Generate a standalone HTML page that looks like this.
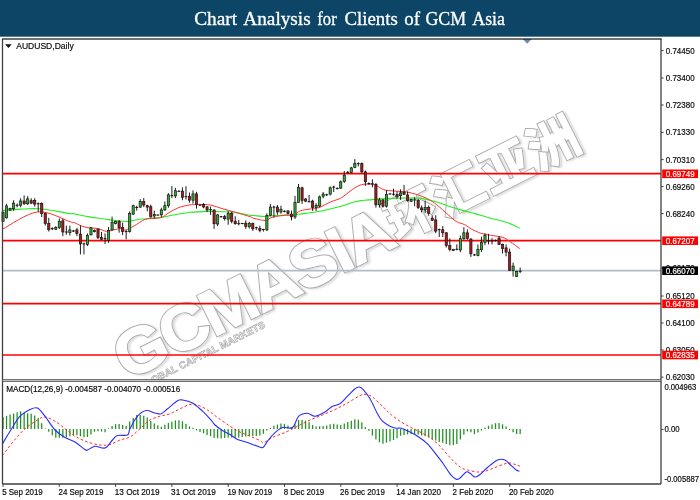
<!DOCTYPE html>
<html lang="en"><head><meta charset="utf-8"><title>Chart Analysis for Clients of GCM Asia</title>
<style>html,body{margin:0;padding:0;background:#fff;overflow:hidden}body{width:700px;height:500px;position:relative}</style></head>
<body>
<svg width="700" height="500" viewBox="0 0 700 500" style="position:absolute;left:0;top:0">
<defs><filter id="wmblur" x="-5%" y="-20%" width="110%" height="140%"><feGaussianBlur stdDeviation="1.2"/></filter><clipPath id="cpm"><rect x="2.5" y="38.9" width="658.5" height="340.8"/></clipPath></defs>
<rect x="0" y="0" width="700" height="36.7" fill="#0d4566"/>
<text y="24.8" font-family="'Liberation Serif',serif" font-size="19.5" fill="#ffffff" stroke="#ffffff" stroke-width="0.3"><tspan x="194.2" textLength="43.0" lengthAdjust="spacingAndGlyphs">Chart</tspan> <tspan x="243.3" textLength="67.4" lengthAdjust="spacingAndGlyphs">Analysis</tspan> <tspan x="317.3" textLength="19.4" lengthAdjust="spacingAndGlyphs">for</tspan> <tspan x="344.4" textLength="53.4" lengthAdjust="spacingAndGlyphs">Clients</tspan> <tspan x="404.3" textLength="15.8" lengthAdjust="spacingAndGlyphs">of</tspan> <tspan x="425.4" textLength="40.8" lengthAdjust="spacingAndGlyphs">GCM</tspan> <tspan x="472.3" textLength="32.7" lengthAdjust="spacingAndGlyphs">Asia</tspan></text>
<g clip-path="url(#cpm)"><g transform="translate(127.3,380.8) rotate(-26.6)" font-family="'Liberation Sans','Noto Sans CJK SC',sans-serif" font-weight="bold">
<text transform="translate(2,2.2) scale(1.05,1)" x="0" y="0" font-size="64" letter-spacing="-2.06" fill="none" stroke="#9a9a9a" stroke-width="2" opacity="0.5" filter="url(#wmblur)">GCMASIA</text>
<text x="305.5" y="-1.7999999999999998" font-size="50" letter-spacing="3" fill="none" stroke="#9a9a9a" stroke-width="2" opacity="0.5" filter="url(#wmblur)">环汇亚洲</text>
<text transform="translate(0,0) scale(1.05,1)" x="0" y="0" font-size="64" letter-spacing="-2.06" fill="#acacac" stroke="#acacac" stroke-width="3.1" stroke-linejoin="miter">GCMASIA</text>
<text x="303.5" y="-4" font-size="50" letter-spacing="3" fill="#acacac" stroke="#acacac" stroke-width="3.1" stroke-linejoin="miter">环汇亚洲</text>
<text transform="translate(0,0) scale(1.05,1)" x="0" y="0" font-size="64" letter-spacing="-2.06" fill="#ffffff" stroke="#ffffff" stroke-width="1.2" stroke-linejoin="miter">GCMASIA</text>
<text x="303.5" y="-4" font-size="50" letter-spacing="3" fill="#ffffff" stroke="#ffffff" stroke-width="1.2" stroke-linejoin="miter">环汇亚洲</text>
<text x="8" y="14" font-size="9.8" fill="#ffffff" stroke="#b2b2b2" stroke-width="0.75" textLength="140" lengthAdjust="spacing">GLOBAL CAPITAL MARKETS</text>
</g></g>
<line x1="2.5" x2="661.0" y1="270.6" y2="270.6" stroke="#b0bcc9" stroke-width="1.7"/>
<line x1="2.5" x2="661.0" y1="173.6" y2="173.6" stroke="#ff0000" stroke-width="1.7"/>
<line x1="2.5" x2="661.0" y1="240.7" y2="240.7" stroke="#ff0000" stroke-width="1.7"/>
<line x1="2.5" x2="661.0" y1="303.6" y2="303.6" stroke="#ff0000" stroke-width="1.7"/>
<line x1="2.5" x2="661.0" y1="355.0" y2="355.0" stroke="#ff0000" stroke-width="1.7"/>
<path d="M2.8,210.5C5.8,210.3 15.2,209.4 21.0,209.1C26.8,208.8 32.0,208.4 37.8,208.7C43.6,209.0 50.6,210.3 56.0,211.1C61.4,211.9 67.0,213.1 70.0,213.6C73.0,214.1 71.0,213.3 74.0,213.8C77.0,214.3 83.3,215.8 88.0,216.6C92.7,217.4 97.3,218.0 102.0,218.7C106.7,219.3 111.6,220.0 116.0,220.5C120.4,221.0 124.9,221.6 128.4,221.5C131.9,221.4 133.5,220.2 136.8,219.7C140.1,219.2 143.8,219.1 148.0,218.7C152.2,218.3 157.3,218.0 162.0,217.3C166.7,216.6 171.3,215.3 176.0,214.5C180.7,213.7 187.0,212.7 190.0,212.3C193.0,211.9 191.0,212.2 194.0,212.1C197.0,211.9 203.3,211.5 208.0,211.4C212.7,211.3 217.3,211.5 222.0,211.7C226.7,211.9 231.3,211.9 236.0,212.5C240.7,213.1 247.0,214.8 250.0,215.3C253.0,215.8 251.5,215.3 254.0,215.5C256.5,215.7 261.7,216.5 265.2,216.5C268.7,216.5 271.0,215.7 275.0,215.5C279.0,215.3 285.0,215.3 289.0,215.1C293.0,214.9 295.3,214.7 298.8,214.3C302.3,213.9 307.5,213.0 310.0,212.7C312.5,212.4 311.0,212.8 314.0,212.3C317.0,211.8 323.3,210.6 328.0,209.5C332.7,208.4 337.3,207.3 342.0,206.0C346.7,204.7 351.0,202.6 356.0,201.5C361.0,200.4 366.7,200.1 372.0,199.6C377.3,199.1 383.0,198.8 388.0,198.5C393.0,198.2 397.3,198.2 402.0,198.1C406.7,198.0 413.0,198.1 416.0,198.1C419.0,198.1 417.0,197.6 420.0,198.1C423.0,198.6 429.3,200.0 434.0,201.3C438.7,202.6 443.3,204.4 448.0,205.9C452.7,207.4 457.3,208.8 462.0,210.1C466.7,211.4 471.5,212.6 476.0,213.9C480.5,215.2 484.5,216.6 489.0,217.8C493.5,219.0 499.0,220.1 503.0,221.3C507.0,222.5 510.0,223.6 512.8,224.8C515.6,226.0 518.6,227.7 519.8,228.3" fill="none" stroke="#22ee22" stroke-width="1.1" stroke-linejoin="round" />
<path d="M2.8,229.0C8.6,226.2 26.6,213.1 37.8,211.9C49.0,210.7 64.0,219.9 70.0,221.7C76.0,223.5 72.2,221.8 74.0,222.5C75.8,223.2 78.7,224.8 81.0,225.7C83.3,226.6 85.2,227.3 88.0,227.8C90.8,228.3 94.8,227.9 97.8,228.5C100.8,229.1 103.6,231.1 106.2,231.3C108.8,231.5 110.6,230.4 113.2,229.9C115.8,229.4 119.5,228.6 121.6,228.6C123.7,228.6 123.5,230.4 125.6,230.0C127.7,229.6 130.7,227.8 134.0,226.0C137.3,224.2 141.7,220.6 145.2,219.3C148.7,218.0 152.2,218.6 155.0,218.3C157.8,218.0 159.7,218.2 162.0,217.3C164.3,216.4 166.2,214.3 169.0,212.7C171.8,211.1 175.3,208.8 178.8,207.5C182.3,206.2 187.5,205.4 190.0,204.9C192.5,204.4 192.6,204.8 194.0,204.7C195.4,204.6 195.4,204.3 198.2,204.4C201.0,204.5 206.8,204.4 210.8,205.1C214.8,205.8 217.8,207.4 222.0,208.6C226.2,209.8 231.3,211.2 236.0,212.5C240.7,213.8 247.0,215.7 250.0,216.7C253.0,217.7 251.5,217.7 254.0,218.3C256.5,218.9 262.2,220.6 265.2,220.4C268.2,220.2 268.7,218.2 272.2,217.3C275.7,216.4 282.7,215.4 286.2,215.1C289.7,214.8 290.9,216.2 293.2,215.5C295.5,214.8 297.4,212.0 300.2,210.9C303.0,209.8 307.7,209.3 310.0,209.0C312.3,208.7 312.2,209.2 314.0,208.8C315.8,208.4 318.2,207.9 321.0,206.7C323.8,205.5 327.5,203.2 330.8,201.8C334.1,200.4 337.6,199.9 340.6,198.3C343.6,196.7 346.4,193.9 349.0,192.0C351.6,190.1 353.9,188.3 356.0,187.1C358.1,185.9 359.5,185.1 361.6,184.6C363.7,184.1 366.1,184.0 368.4,184.1C370.7,184.2 372.8,184.3 375.4,185.2C378.0,186.1 380.5,188.7 383.8,189.7C387.1,190.7 391.3,190.7 395.0,191.1C398.7,191.5 402.7,191.4 406.2,191.9C409.7,192.4 413.7,193.7 416.0,194.3C418.3,194.9 417.9,194.9 420.0,195.7C422.1,196.5 425.6,197.7 428.4,199.2C431.2,200.7 433.5,202.2 436.8,204.8C440.1,207.4 444.7,211.8 448.0,214.6C451.3,217.4 453.6,219.9 456.4,221.6C459.2,223.3 462.2,223.4 464.8,224.7C467.4,226.0 469.5,228.0 471.8,229.3C474.1,230.6 476.9,231.7 478.8,232.5C480.7,233.3 481.0,233.4 483.4,233.9C485.8,234.4 489.9,235.1 493.2,235.7C496.5,236.3 500.2,236.4 503.0,237.4C505.8,238.4 507.2,239.7 510.0,241.6C512.8,243.5 518.2,247.4 519.8,248.6" fill="none" stroke="#ff3030" stroke-width="1.0" stroke-linejoin="round" />
<line x1="3.04" x2="3.04" y1="211.5" y2="221.7" stroke="#111" stroke-width="0.95"/>
<rect x="1.94" y="212.2" width="2.2" height="9.1" fill="#2fae2f" stroke="#151515" stroke-width="0.7"/>
<line x1="6.55" x2="6.55" y1="203.8" y2="218.5" stroke="#111" stroke-width="0.95"/>
<rect x="5.45" y="205.9" width="2.2" height="11.9" fill="#2fae2f" stroke="#151515" stroke-width="0.7"/>
<line x1="10.07" x2="10.07" y1="207.7" y2="210.5" stroke="#111" stroke-width="0.95"/>
<rect x="8.97" y="208.4" width="2.2" height="1.7" fill="#2fae2f" stroke="#151515" stroke-width="0.7"/>
<line x1="13.59" x2="13.59" y1="200.3" y2="210.8" stroke="#111" stroke-width="0.95"/>
<rect x="12.49" y="203.1" width="2.2" height="5.6" fill="#2fae2f" stroke="#151515" stroke-width="0.7"/>
<line x1="17.11" x2="17.11" y1="203.5" y2="207.3" stroke="#111" stroke-width="0.95"/>
<line x1="15.71" x2="18.51" y1="205.3" y2="205.3" stroke="#111" stroke-width="1"/>
<line x1="20.62" x2="20.62" y1="198.2" y2="207.3" stroke="#111" stroke-width="0.95"/>
<rect x="19.52" y="201.0" width="2.2" height="4.2" fill="#2fae2f" stroke="#151515" stroke-width="0.7"/>
<line x1="24.14" x2="24.14" y1="195.4" y2="204.9" stroke="#111" stroke-width="0.95"/>
<rect x="23.04" y="201.0" width="2.2" height="2.8" fill="#b01818" stroke="#151515" stroke-width="0.7"/>
<line x1="27.66" x2="27.66" y1="196.1" y2="204.9" stroke="#111" stroke-width="0.95"/>
<rect x="26.56" y="198.9" width="2.2" height="4.9" fill="#2fae2f" stroke="#151515" stroke-width="0.7"/>
<line x1="31.18" x2="31.18" y1="198.2" y2="204.1" stroke="#111" stroke-width="0.95"/>
<rect x="30.08" y="200.7" width="2.2" height="2.4" fill="#b01818" stroke="#151515" stroke-width="0.7"/>
<line x1="34.70" x2="34.70" y1="198.2" y2="206.6" stroke="#111" stroke-width="0.95"/>
<rect x="33.60" y="200.3" width="2.2" height="3.8" fill="#b01818" stroke="#151515" stroke-width="0.7"/>
<line x1="38.21" x2="38.21" y1="202.4" y2="211.9" stroke="#111" stroke-width="0.95"/>
<line x1="36.81" x2="39.61" y1="203.8" y2="203.8" stroke="#111" stroke-width="1"/>
<line x1="41.73" x2="41.73" y1="202.4" y2="217.1" stroke="#111" stroke-width="0.95"/>
<rect x="40.63" y="203.5" width="2.2" height="10.1" fill="#b01818" stroke="#151515" stroke-width="0.7"/>
<line x1="45.25" x2="45.25" y1="212.9" y2="225.5" stroke="#111" stroke-width="0.95"/>
<rect x="44.15" y="213.6" width="2.2" height="9.8" fill="#b01818" stroke="#151515" stroke-width="0.7"/>
<line x1="48.77" x2="48.77" y1="217.8" y2="231.5" stroke="#111" stroke-width="0.95"/>
<rect x="47.67" y="223.4" width="2.2" height="6.3" fill="#b01818" stroke="#151515" stroke-width="0.7"/>
<line x1="52.28" x2="52.28" y1="227.3" y2="230.1" stroke="#111" stroke-width="0.95"/>
<line x1="50.88" x2="53.68" y1="228.6" y2="228.6" stroke="#111" stroke-width="1"/>
<line x1="55.80" x2="55.80" y1="226.2" y2="229.7" stroke="#111" stroke-width="0.95"/>
<rect x="54.70" y="227.6" width="2.2" height="1.7" fill="#2fae2f" stroke="#151515" stroke-width="0.7"/>
<line x1="59.32" x2="59.32" y1="218.5" y2="229.0" stroke="#111" stroke-width="0.95"/>
<rect x="58.22" y="221.3" width="2.2" height="6.3" fill="#2fae2f" stroke="#151515" stroke-width="0.7"/>
<line x1="62.84" x2="62.84" y1="218.7" y2="236.2" stroke="#111" stroke-width="0.95"/>
<rect x="61.74" y="220.8" width="2.2" height="11.2" fill="#b01818" stroke="#151515" stroke-width="0.7"/>
<line x1="66.36" x2="66.36" y1="225.7" y2="234.8" stroke="#111" stroke-width="0.95"/>
<line x1="64.96" x2="67.76" y1="232.0" y2="232.0" stroke="#111" stroke-width="1"/>
<line x1="69.87" x2="69.87" y1="225.7" y2="235.5" stroke="#111" stroke-width="0.95"/>
<rect x="68.77" y="229.9" width="2.2" height="2.8" fill="#2fae2f" stroke="#151515" stroke-width="0.7"/>
<line x1="73.39" x2="73.39" y1="229.9" y2="232.0" stroke="#111" stroke-width="0.95"/>
<line x1="71.99" x2="74.79" y1="231.0" y2="231.0" stroke="#111" stroke-width="1"/>
<line x1="76.91" x2="76.91" y1="227.8" y2="236.2" stroke="#111" stroke-width="0.95"/>
<rect x="75.81" y="229.9" width="2.2" height="3.5" fill="#b01818" stroke="#151515" stroke-width="0.7"/>
<line x1="80.43" x2="80.43" y1="225.7" y2="254.4" stroke="#111" stroke-width="0.95"/>
<rect x="79.33" y="234.1" width="2.2" height="9.8" fill="#b01818" stroke="#151515" stroke-width="0.7"/>
<line x1="83.95" x2="83.95" y1="242.5" y2="254.4" stroke="#111" stroke-width="0.95"/>
<line x1="82.55" x2="85.35" y1="243.9" y2="243.9" stroke="#111" stroke-width="1"/>
<line x1="87.46" x2="87.46" y1="233.4" y2="246.0" stroke="#111" stroke-width="0.95"/>
<rect x="86.36" y="235.5" width="2.2" height="9.1" fill="#2fae2f" stroke="#151515" stroke-width="0.7"/>
<line x1="90.98" x2="90.98" y1="227.1" y2="235.5" stroke="#111" stroke-width="0.95"/>
<rect x="89.88" y="227.8" width="2.2" height="7.0" fill="#2fae2f" stroke="#151515" stroke-width="0.7"/>
<line x1="94.50" x2="94.50" y1="229.6" y2="232.4" stroke="#111" stroke-width="0.95"/>
<rect x="93.40" y="230.3" width="2.2" height="1.4" fill="#2fae2f" stroke="#151515" stroke-width="0.7"/>
<line x1="98.02" x2="98.02" y1="228.5" y2="239.0" stroke="#111" stroke-width="0.95"/>
<rect x="96.92" y="229.2" width="2.2" height="8.4" fill="#b01818" stroke="#151515" stroke-width="0.7"/>
<line x1="101.53" x2="101.53" y1="232.0" y2="240.4" stroke="#111" stroke-width="0.95"/>
<rect x="100.43" y="237.6" width="2.2" height="1.7" fill="#b01818" stroke="#151515" stroke-width="0.7"/>
<line x1="105.05" x2="105.05" y1="233.4" y2="243.9" stroke="#111" stroke-width="0.95"/>
<line x1="103.65" x2="106.45" y1="238.7" y2="238.7" stroke="#111" stroke-width="1"/>
<line x1="108.57" x2="108.57" y1="227.1" y2="242.9" stroke="#111" stroke-width="0.95"/>
<rect x="107.47" y="230.6" width="2.2" height="9.8" fill="#2fae2f" stroke="#151515" stroke-width="0.7"/>
<line x1="112.09" x2="112.09" y1="216.6" y2="230.6" stroke="#111" stroke-width="0.95"/>
<rect x="110.99" y="222.2" width="2.2" height="7.7" fill="#2fae2f" stroke="#151515" stroke-width="0.7"/>
<line x1="115.61" x2="115.61" y1="220.8" y2="224.3" stroke="#111" stroke-width="0.95"/>
<rect x="114.51" y="221.5" width="2.2" height="2.1" fill="#2fae2f" stroke="#151515" stroke-width="0.7"/>
<line x1="119.12" x2="119.12" y1="220.1" y2="232.7" stroke="#111" stroke-width="0.95"/>
<rect x="118.02" y="221.5" width="2.2" height="6.3" fill="#b01818" stroke="#151515" stroke-width="0.7"/>
<line x1="122.64" x2="122.64" y1="222.5" y2="235.1" stroke="#111" stroke-width="0.95"/>
<rect x="121.54" y="227.4" width="2.2" height="4.2" fill="#b01818" stroke="#151515" stroke-width="0.7"/>
<line x1="126.16" x2="126.16" y1="230.2" y2="239.3" stroke="#111" stroke-width="0.95"/>
<line x1="124.76" x2="127.56" y1="231.6" y2="231.6" stroke="#111" stroke-width="1"/>
<line x1="129.68" x2="129.68" y1="211.3" y2="232.7" stroke="#111" stroke-width="0.95"/>
<rect x="128.58" y="213.4" width="2.2" height="18.2" fill="#2fae2f" stroke="#151515" stroke-width="0.7"/>
<line x1="133.19" x2="133.19" y1="204.7" y2="214.8" stroke="#111" stroke-width="0.95"/>
<rect x="132.09" y="205.7" width="2.2" height="8.4" fill="#2fae2f" stroke="#151515" stroke-width="0.7"/>
<line x1="136.71" x2="136.71" y1="205.7" y2="210.6" stroke="#111" stroke-width="0.95"/>
<line x1="135.31" x2="138.11" y1="207.5" y2="207.5" stroke="#111" stroke-width="1"/>
<line x1="140.23" x2="140.23" y1="199.1" y2="207.8" stroke="#111" stroke-width="0.95"/>
<rect x="139.13" y="201.5" width="2.2" height="5.6" fill="#2fae2f" stroke="#151515" stroke-width="0.7"/>
<line x1="143.75" x2="143.75" y1="198.0" y2="207.1" stroke="#111" stroke-width="0.95"/>
<rect x="142.65" y="201.5" width="2.2" height="3.5" fill="#b01818" stroke="#151515" stroke-width="0.7"/>
<line x1="147.27" x2="147.27" y1="204.7" y2="211.3" stroke="#111" stroke-width="0.95"/>
<rect x="146.17" y="205.7" width="2.2" height="1.4" fill="#b01818" stroke="#151515" stroke-width="0.7"/>
<line x1="150.78" x2="150.78" y1="204.7" y2="217.6" stroke="#111" stroke-width="0.95"/>
<rect x="149.68" y="206.7" width="2.2" height="10.2" fill="#b01818" stroke="#151515" stroke-width="0.7"/>
<line x1="154.30" x2="154.30" y1="210.6" y2="218.3" stroke="#111" stroke-width="0.95"/>
<rect x="153.20" y="214.5" width="2.2" height="1.4" fill="#2fae2f" stroke="#151515" stroke-width="0.7"/>
<line x1="157.82" x2="157.82" y1="214.5" y2="215.6" stroke="#111" stroke-width="0.95"/>
<line x1="156.42" x2="159.22" y1="215.1" y2="215.1" stroke="#111" stroke-width="1"/>
<line x1="161.34" x2="161.34" y1="207.8" y2="216.9" stroke="#111" stroke-width="0.95"/>
<rect x="160.24" y="209.9" width="2.2" height="4.9" fill="#2fae2f" stroke="#151515" stroke-width="0.7"/>
<line x1="164.85" x2="164.85" y1="201.5" y2="210.9" stroke="#111" stroke-width="0.95"/>
<rect x="163.75" y="205.7" width="2.2" height="4.2" fill="#2fae2f" stroke="#151515" stroke-width="0.7"/>
<line x1="168.37" x2="168.37" y1="193.1" y2="207.8" stroke="#111" stroke-width="0.95"/>
<rect x="167.27" y="194.9" width="2.2" height="10.8" fill="#2fae2f" stroke="#151515" stroke-width="0.7"/>
<line x1="171.89" x2="171.89" y1="186.1" y2="198.0" stroke="#111" stroke-width="0.95"/>
<line x1="170.49" x2="173.29" y1="195.6" y2="195.6" stroke="#111" stroke-width="1"/>
<line x1="175.41" x2="175.41" y1="187.9" y2="198.0" stroke="#111" stroke-width="0.95"/>
<rect x="174.31" y="190.7" width="2.2" height="5.2" fill="#2fae2f" stroke="#151515" stroke-width="0.7"/>
<line x1="178.93" x2="178.93" y1="190.3" y2="192.1" stroke="#111" stroke-width="0.95"/>
<line x1="177.53" x2="180.33" y1="191.3" y2="191.3" stroke="#111" stroke-width="1"/>
<line x1="182.44" x2="182.44" y1="187.3" y2="200.2" stroke="#111" stroke-width="0.95"/>
<rect x="181.34" y="191.1" width="2.2" height="6.3" fill="#b01818" stroke="#151515" stroke-width="0.7"/>
<line x1="185.96" x2="185.96" y1="186.2" y2="199.5" stroke="#111" stroke-width="0.95"/>
<line x1="184.56" x2="187.36" y1="196.7" y2="196.7" stroke="#111" stroke-width="1"/>
<line x1="189.48" x2="189.48" y1="192.5" y2="202.7" stroke="#111" stroke-width="0.95"/>
<rect x="188.38" y="196.3" width="2.2" height="3.9" fill="#b01818" stroke="#151515" stroke-width="0.7"/>
<line x1="193.00" x2="193.00" y1="190.4" y2="203.7" stroke="#111" stroke-width="0.95"/>
<rect x="191.90" y="193.9" width="2.2" height="6.3" fill="#2fae2f" stroke="#151515" stroke-width="0.7"/>
<line x1="196.51" x2="196.51" y1="191.8" y2="208.6" stroke="#111" stroke-width="0.95"/>
<rect x="195.41" y="193.9" width="2.2" height="10.8" fill="#b01818" stroke="#151515" stroke-width="0.7"/>
<line x1="200.03" x2="200.03" y1="204.4" y2="206.1" stroke="#111" stroke-width="0.95"/>
<line x1="198.63" x2="201.43" y1="205.1" y2="205.1" stroke="#111" stroke-width="1"/>
<line x1="203.55" x2="203.55" y1="203.0" y2="208.3" stroke="#111" stroke-width="0.95"/>
<rect x="202.45" y="204.4" width="2.2" height="2.5" fill="#b01818" stroke="#151515" stroke-width="0.7"/>
<line x1="207.07" x2="207.07" y1="206.1" y2="212.1" stroke="#111" stroke-width="0.95"/>
<rect x="205.97" y="206.9" width="2.2" height="3.1" fill="#b01818" stroke="#151515" stroke-width="0.7"/>
<line x1="210.59" x2="210.59" y1="206.5" y2="214.9" stroke="#111" stroke-width="0.95"/>
<line x1="209.19" x2="211.99" y1="209.7" y2="209.7" stroke="#111" stroke-width="1"/>
<line x1="214.10" x2="214.10" y1="209.3" y2="228.9" stroke="#111" stroke-width="0.95"/>
<rect x="213.00" y="210.0" width="2.2" height="13.7" fill="#b01818" stroke="#151515" stroke-width="0.7"/>
<line x1="217.62" x2="217.62" y1="214.2" y2="226.1" stroke="#111" stroke-width="0.95"/>
<rect x="216.52" y="214.9" width="2.2" height="9.1" fill="#2fae2f" stroke="#151515" stroke-width="0.7"/>
<line x1="221.14" x2="221.14" y1="216.0" y2="217.7" stroke="#111" stroke-width="0.95"/>
<line x1="219.74" x2="222.54" y1="216.7" y2="216.7" stroke="#111" stroke-width="1"/>
<line x1="224.66" x2="224.66" y1="214.9" y2="220.5" stroke="#111" stroke-width="0.95"/>
<rect x="223.56" y="216.7" width="2.2" height="2.0" fill="#b01818" stroke="#151515" stroke-width="0.7"/>
<line x1="228.17" x2="228.17" y1="211.1" y2="224.7" stroke="#111" stroke-width="0.95"/>
<rect x="227.07" y="213.5" width="2.2" height="5.6" fill="#2fae2f" stroke="#151515" stroke-width="0.7"/>
<line x1="231.69" x2="231.69" y1="211.7" y2="223.3" stroke="#111" stroke-width="0.95"/>
<rect x="230.59" y="213.5" width="2.2" height="7.7" fill="#b01818" stroke="#151515" stroke-width="0.7"/>
<line x1="235.21" x2="235.21" y1="216.3" y2="224.7" stroke="#111" stroke-width="0.95"/>
<rect x="234.11" y="221.2" width="2.2" height="2.5" fill="#b01818" stroke="#151515" stroke-width="0.7"/>
<line x1="238.73" x2="238.73" y1="219.8" y2="225.4" stroke="#111" stroke-width="0.95"/>
<line x1="237.33" x2="240.13" y1="223.7" y2="223.7" stroke="#111" stroke-width="1"/>
<line x1="242.25" x2="242.25" y1="222.9" y2="224.3" stroke="#111" stroke-width="0.95"/>
<line x1="240.85" x2="243.65" y1="223.5" y2="223.5" stroke="#111" stroke-width="1"/>
<line x1="245.76" x2="245.76" y1="220.4" y2="228.8" stroke="#111" stroke-width="0.95"/>
<rect x="244.66" y="223.2" width="2.2" height="3.1" fill="#b01818" stroke="#151515" stroke-width="0.7"/>
<line x1="249.28" x2="249.28" y1="221.8" y2="228.5" stroke="#111" stroke-width="0.95"/>
<rect x="248.18" y="223.5" width="2.2" height="3.2" fill="#2fae2f" stroke="#151515" stroke-width="0.7"/>
<line x1="252.80" x2="252.80" y1="222.5" y2="230.9" stroke="#111" stroke-width="0.95"/>
<rect x="251.70" y="223.5" width="2.2" height="5.3" fill="#b01818" stroke="#151515" stroke-width="0.7"/>
<line x1="256.32" x2="256.32" y1="226.7" y2="229.9" stroke="#111" stroke-width="0.95"/>
<line x1="254.92" x2="257.72" y1="227.7" y2="227.7" stroke="#111" stroke-width="1"/>
<line x1="259.84" x2="259.84" y1="225.7" y2="232.3" stroke="#111" stroke-width="0.95"/>
<rect x="258.74" y="228.5" width="2.2" height="2.0" fill="#b01818" stroke="#151515" stroke-width="0.7"/>
<line x1="263.35" x2="263.35" y1="228.8" y2="231.6" stroke="#111" stroke-width="0.95"/>
<line x1="261.95" x2="264.75" y1="229.5" y2="229.5" stroke="#111" stroke-width="1"/>
<line x1="266.87" x2="266.87" y1="213.4" y2="230.9" stroke="#111" stroke-width="0.95"/>
<rect x="265.77" y="215.5" width="2.2" height="14.4" fill="#2fae2f" stroke="#151515" stroke-width="0.7"/>
<line x1="270.39" x2="270.39" y1="203.9" y2="216.2" stroke="#111" stroke-width="0.95"/>
<rect x="269.29" y="207.1" width="2.2" height="8.4" fill="#2fae2f" stroke="#151515" stroke-width="0.7"/>
<line x1="273.91" x2="273.91" y1="205.7" y2="217.6" stroke="#111" stroke-width="0.95"/>
<line x1="272.51" x2="275.31" y1="207.1" y2="207.1" stroke="#111" stroke-width="1"/>
<line x1="277.42" x2="277.42" y1="205.0" y2="214.8" stroke="#111" stroke-width="0.95"/>
<rect x="276.32" y="207.1" width="2.2" height="4.9" fill="#b01818" stroke="#151515" stroke-width="0.7"/>
<line x1="280.94" x2="280.94" y1="205.7" y2="213.7" stroke="#111" stroke-width="0.95"/>
<rect x="279.84" y="209.2" width="2.2" height="2.8" fill="#2fae2f" stroke="#151515" stroke-width="0.7"/>
<line x1="284.46" x2="284.46" y1="210.3" y2="212.3" stroke="#111" stroke-width="0.95"/>
<line x1="283.06" x2="285.86" y1="211.3" y2="211.3" stroke="#111" stroke-width="1"/>
<line x1="287.98" x2="287.98" y1="210.3" y2="214.5" stroke="#111" stroke-width="0.95"/>
<rect x="286.88" y="210.9" width="2.2" height="2.5" fill="#b01818" stroke="#151515" stroke-width="0.7"/>
<line x1="291.50" x2="291.50" y1="210.6" y2="220.4" stroke="#111" stroke-width="0.95"/>
<rect x="290.40" y="214.1" width="2.2" height="2.8" fill="#b01818" stroke="#151515" stroke-width="0.7"/>
<line x1="295.01" x2="295.01" y1="195.9" y2="219.0" stroke="#111" stroke-width="0.95"/>
<rect x="293.91" y="202.5" width="2.2" height="14.4" fill="#2fae2f" stroke="#151515" stroke-width="0.7"/>
<line x1="298.53" x2="298.53" y1="184.0" y2="202.9" stroke="#111" stroke-width="0.95"/>
<rect x="297.43" y="187.5" width="2.2" height="15.0" fill="#2fae2f" stroke="#151515" stroke-width="0.7"/>
<line x1="302.05" x2="302.05" y1="186.7" y2="203.9" stroke="#111" stroke-width="0.95"/>
<rect x="300.95" y="187.8" width="2.2" height="12.6" fill="#b01818" stroke="#151515" stroke-width="0.7"/>
<line x1="305.57" x2="305.57" y1="198.3" y2="202.1" stroke="#111" stroke-width="0.95"/>
<rect x="304.47" y="199.0" width="2.2" height="2.1" fill="#b01818" stroke="#151515" stroke-width="0.7"/>
<line x1="309.08" x2="309.08" y1="194.9" y2="202.4" stroke="#111" stroke-width="0.95"/>
<line x1="307.68" x2="310.48" y1="201.7" y2="201.7" stroke="#111" stroke-width="1"/>
<line x1="312.60" x2="312.60" y1="199.7" y2="210.9" stroke="#111" stroke-width="0.95"/>
<rect x="311.50" y="201.1" width="2.2" height="6.3" fill="#b01818" stroke="#151515" stroke-width="0.7"/>
<line x1="316.12" x2="316.12" y1="203.2" y2="210.9" stroke="#111" stroke-width="0.95"/>
<rect x="315.02" y="205.3" width="2.2" height="2.1" fill="#2fae2f" stroke="#151515" stroke-width="0.7"/>
<line x1="319.64" x2="319.64" y1="195.5" y2="207.4" stroke="#111" stroke-width="0.95"/>
<rect x="318.54" y="196.9" width="2.2" height="9.1" fill="#2fae2f" stroke="#151515" stroke-width="0.7"/>
<line x1="323.16" x2="323.16" y1="192.0" y2="198.3" stroke="#111" stroke-width="0.95"/>
<rect x="322.06" y="194.1" width="2.2" height="2.1" fill="#2fae2f" stroke="#151515" stroke-width="0.7"/>
<line x1="326.67" x2="326.67" y1="193.7" y2="195.9" stroke="#111" stroke-width="0.95"/>
<line x1="325.27" x2="328.07" y1="194.8" y2="194.8" stroke="#111" stroke-width="1"/>
<line x1="330.19" x2="330.19" y1="186.4" y2="195.5" stroke="#111" stroke-width="0.95"/>
<rect x="329.09" y="187.8" width="2.2" height="6.3" fill="#2fae2f" stroke="#151515" stroke-width="0.7"/>
<line x1="333.71" x2="333.71" y1="185.7" y2="192.0" stroke="#111" stroke-width="0.95"/>
<line x1="332.31" x2="335.11" y1="187.1" y2="187.1" stroke="#111" stroke-width="1"/>
<line x1="337.23" x2="337.23" y1="187.5" y2="189.5" stroke="#111" stroke-width="0.95"/>
<line x1="335.83" x2="338.63" y1="188.5" y2="188.5" stroke="#111" stroke-width="1"/>
<line x1="340.74" x2="340.74" y1="180.5" y2="188.9" stroke="#111" stroke-width="0.95"/>
<rect x="339.64" y="181.9" width="2.2" height="6.2" fill="#2fae2f" stroke="#151515" stroke-width="0.7"/>
<line x1="344.26" x2="344.26" y1="171.0" y2="182.9" stroke="#111" stroke-width="0.95"/>
<rect x="343.16" y="175.2" width="2.2" height="6.3" fill="#2fae2f" stroke="#151515" stroke-width="0.7"/>
<line x1="347.78" x2="347.78" y1="171.0" y2="173.5" stroke="#111" stroke-width="0.95"/>
<line x1="346.38" x2="349.18" y1="172.4" y2="172.4" stroke="#111" stroke-width="1"/>
<line x1="351.30" x2="351.30" y1="166.8" y2="173.1" stroke="#111" stroke-width="0.95"/>
<rect x="350.20" y="167.9" width="2.2" height="4.5" fill="#2fae2f" stroke="#151515" stroke-width="0.7"/>
<line x1="354.82" x2="354.82" y1="159.1" y2="168.2" stroke="#111" stroke-width="0.95"/>
<rect x="353.72" y="163.3" width="2.2" height="4.2" fill="#2fae2f" stroke="#151515" stroke-width="0.7"/>
<line x1="358.33" x2="358.33" y1="162.3" y2="166.5" stroke="#111" stroke-width="0.95"/>
<line x1="356.93" x2="359.73" y1="163.7" y2="163.7" stroke="#111" stroke-width="1"/>
<line x1="361.85" x2="361.85" y1="162.5" y2="173.3" stroke="#111" stroke-width="0.95"/>
<rect x="360.75" y="163.5" width="2.2" height="8.4" fill="#b01818" stroke="#151515" stroke-width="0.7"/>
<line x1="365.37" x2="365.37" y1="170.5" y2="185.9" stroke="#111" stroke-width="0.95"/>
<rect x="364.27" y="171.9" width="2.2" height="9.8" fill="#b01818" stroke="#151515" stroke-width="0.7"/>
<line x1="368.89" x2="368.89" y1="182.4" y2="184.9" stroke="#111" stroke-width="0.95"/>
<line x1="367.49" x2="370.29" y1="183.5" y2="183.5" stroke="#111" stroke-width="1"/>
<line x1="372.40" x2="372.40" y1="179.3" y2="187.3" stroke="#111" stroke-width="0.95"/>
<line x1="371.00" x2="373.80" y1="183.8" y2="183.8" stroke="#111" stroke-width="1"/>
<line x1="375.92" x2="375.92" y1="183.1" y2="207.6" stroke="#111" stroke-width="0.95"/>
<rect x="374.82" y="184.5" width="2.2" height="20.3" fill="#b01818" stroke="#151515" stroke-width="0.7"/>
<line x1="379.44" x2="379.44" y1="197.8" y2="207.6" stroke="#111" stroke-width="0.95"/>
<rect x="378.34" y="199.9" width="2.2" height="4.9" fill="#2fae2f" stroke="#151515" stroke-width="0.7"/>
<line x1="382.96" x2="382.96" y1="199.2" y2="207.6" stroke="#111" stroke-width="0.95"/>
<rect x="381.86" y="199.9" width="2.2" height="6.3" fill="#b01818" stroke="#151515" stroke-width="0.7"/>
<line x1="386.48" x2="386.48" y1="190.1" y2="207.6" stroke="#111" stroke-width="0.95"/>
<rect x="385.38" y="194.3" width="2.2" height="11.9" fill="#2fae2f" stroke="#151515" stroke-width="0.7"/>
<line x1="389.99" x2="389.99" y1="193.3" y2="194.7" stroke="#111" stroke-width="0.95"/>
<line x1="388.59" x2="391.39" y1="193.9" y2="193.9" stroke="#111" stroke-width="1"/>
<line x1="393.51" x2="393.51" y1="188.7" y2="195.7" stroke="#111" stroke-width="0.95"/>
<line x1="392.11" x2="394.91" y1="194.3" y2="194.3" stroke="#111" stroke-width="1"/>
<line x1="397.03" x2="397.03" y1="191.5" y2="198.5" stroke="#111" stroke-width="0.95"/>
<rect x="395.93" y="194.7" width="2.2" height="2.0" fill="#b01818" stroke="#151515" stroke-width="0.7"/>
<line x1="400.55" x2="400.55" y1="189.4" y2="199.9" stroke="#111" stroke-width="0.95"/>
<rect x="399.45" y="192.9" width="2.2" height="2.8" fill="#2fae2f" stroke="#151515" stroke-width="0.7"/>
<line x1="404.06" x2="404.06" y1="184.9" y2="195.0" stroke="#111" stroke-width="0.95"/>
<rect x="402.96" y="192.2" width="2.2" height="2.1" fill="#b01818" stroke="#151515" stroke-width="0.7"/>
<line x1="407.58" x2="407.58" y1="191.5" y2="201.7" stroke="#111" stroke-width="0.95"/>
<rect x="406.48" y="195.0" width="2.2" height="5.6" fill="#b01818" stroke="#151515" stroke-width="0.7"/>
<line x1="411.10" x2="411.10" y1="198.5" y2="202.0" stroke="#111" stroke-width="0.95"/>
<rect x="410.00" y="199.5" width="2.2" height="1.8" fill="#2fae2f" stroke="#151515" stroke-width="0.7"/>
<line x1="414.62" x2="414.62" y1="197.1" y2="206.2" stroke="#111" stroke-width="0.95"/>
<line x1="413.22" x2="416.02" y1="199.9" y2="199.9" stroke="#111" stroke-width="1"/>
<line x1="418.14" x2="418.14" y1="199.2" y2="209.0" stroke="#111" stroke-width="0.95"/>
<rect x="417.04" y="200.6" width="2.2" height="7.0" fill="#b01818" stroke="#151515" stroke-width="0.7"/>
<line x1="421.65" x2="421.65" y1="205.5" y2="212.5" stroke="#111" stroke-width="0.95"/>
<rect x="420.55" y="207.9" width="2.2" height="1.8" fill="#b01818" stroke="#151515" stroke-width="0.7"/>
<line x1="425.17" x2="425.17" y1="200.6" y2="212.9" stroke="#111" stroke-width="0.95"/>
<rect x="424.07" y="207.6" width="2.2" height="2.1" fill="#2fae2f" stroke="#151515" stroke-width="0.7"/>
<line x1="428.69" x2="428.69" y1="205.5" y2="215.7" stroke="#111" stroke-width="0.95"/>
<rect x="427.59" y="207.6" width="2.2" height="5.6" fill="#b01818" stroke="#151515" stroke-width="0.7"/>
<line x1="432.21" x2="432.21" y1="215.3" y2="220.9" stroke="#111" stroke-width="0.95"/>
<rect x="431.11" y="218.1" width="2.2" height="2.1" fill="#b01818" stroke="#151515" stroke-width="0.7"/>
<line x1="435.73" x2="435.73" y1="215.3" y2="233.1" stroke="#111" stroke-width="0.95"/>
<rect x="434.63" y="219.9" width="2.2" height="11.2" fill="#b01818" stroke="#151515" stroke-width="0.7"/>
<line x1="439.24" x2="439.24" y1="228.6" y2="237.0" stroke="#111" stroke-width="0.95"/>
<line x1="437.84" x2="440.64" y1="229.7" y2="229.7" stroke="#111" stroke-width="1"/>
<line x1="442.76" x2="442.76" y1="226.1" y2="237.0" stroke="#111" stroke-width="0.95"/>
<rect x="441.66" y="229.7" width="2.2" height="3.1" fill="#b01818" stroke="#151515" stroke-width="0.7"/>
<line x1="446.28" x2="446.28" y1="232.1" y2="247.5" stroke="#111" stroke-width="0.95"/>
<rect x="445.18" y="232.8" width="2.2" height="12.6" fill="#b01818" stroke="#151515" stroke-width="0.7"/>
<line x1="449.80" x2="449.80" y1="238.4" y2="251.3" stroke="#111" stroke-width="0.95"/>
<rect x="448.70" y="245.4" width="2.2" height="4.2" fill="#b01818" stroke="#151515" stroke-width="0.7"/>
<line x1="453.31" x2="453.31" y1="248.9" y2="251.0" stroke="#111" stroke-width="0.95"/>
<rect x="452.21" y="249.3" width="2.2" height="1.2" fill="#2fae2f" stroke="#151515" stroke-width="0.7"/>
<line x1="456.83" x2="456.83" y1="244.3" y2="250.3" stroke="#111" stroke-width="0.95"/>
<line x1="455.43" x2="458.23" y1="249.3" y2="249.3" stroke="#111" stroke-width="1"/>
<line x1="460.35" x2="460.35" y1="235.6" y2="252.1" stroke="#111" stroke-width="0.95"/>
<rect x="459.25" y="238.7" width="2.2" height="11.2" fill="#2fae2f" stroke="#151515" stroke-width="0.7"/>
<line x1="463.87" x2="463.87" y1="227.2" y2="239.8" stroke="#111" stroke-width="0.95"/>
<rect x="462.77" y="232.8" width="2.2" height="5.9" fill="#2fae2f" stroke="#151515" stroke-width="0.7"/>
<line x1="467.39" x2="467.39" y1="229.3" y2="239.8" stroke="#111" stroke-width="0.95"/>
<rect x="466.29" y="232.8" width="2.2" height="5.6" fill="#b01818" stroke="#151515" stroke-width="0.7"/>
<line x1="470.90" x2="470.90" y1="238.1" y2="256.9" stroke="#111" stroke-width="0.95"/>
<rect x="469.80" y="239.1" width="2.2" height="14.7" fill="#b01818" stroke="#151515" stroke-width="0.7"/>
<line x1="474.42" x2="474.42" y1="253.8" y2="255.9" stroke="#111" stroke-width="0.95"/>
<line x1="473.02" x2="475.82" y1="254.9" y2="254.9" stroke="#111" stroke-width="1"/>
<line x1="477.94" x2="477.94" y1="244.4" y2="256.3" stroke="#111" stroke-width="0.95"/>
<rect x="476.84" y="249.3" width="2.2" height="6.3" fill="#2fae2f" stroke="#151515" stroke-width="0.7"/>
<line x1="481.46" x2="481.46" y1="236.7" y2="252.1" stroke="#111" stroke-width="0.95"/>
<rect x="480.36" y="242.3" width="2.2" height="7.4" fill="#2fae2f" stroke="#151515" stroke-width="0.7"/>
<line x1="484.97" x2="484.97" y1="233.2" y2="245.1" stroke="#111" stroke-width="0.95"/>
<rect x="483.87" y="235.3" width="2.2" height="7.0" fill="#2fae2f" stroke="#151515" stroke-width="0.7"/>
<line x1="488.49" x2="488.49" y1="233.9" y2="244.4" stroke="#111" stroke-width="0.95"/>
<line x1="487.09" x2="489.89" y1="240.9" y2="240.9" stroke="#111" stroke-width="1"/>
<line x1="492.01" x2="492.01" y1="238.1" y2="244.4" stroke="#111" stroke-width="0.95"/>
<line x1="490.61" x2="493.41" y1="240.9" y2="240.9" stroke="#111" stroke-width="1"/>
<line x1="495.53" x2="495.53" y1="239.5" y2="241.6" stroke="#111" stroke-width="0.95"/>
<line x1="494.13" x2="496.93" y1="240.5" y2="240.5" stroke="#111" stroke-width="1"/>
<line x1="499.05" x2="499.05" y1="236.0" y2="244.7" stroke="#111" stroke-width="0.95"/>
<rect x="497.95" y="238.1" width="2.2" height="6.3" fill="#b01818" stroke="#151515" stroke-width="0.7"/>
<line x1="502.56" x2="502.56" y1="243.7" y2="253.5" stroke="#111" stroke-width="0.95"/>
<rect x="501.46" y="244.4" width="2.2" height="4.2" fill="#b01818" stroke="#151515" stroke-width="0.7"/>
<line x1="506.08" x2="506.08" y1="244.4" y2="256.3" stroke="#111" stroke-width="0.95"/>
<rect x="504.98" y="247.9" width="2.2" height="4.2" fill="#b01818" stroke="#151515" stroke-width="0.7"/>
<line x1="509.60" x2="509.60" y1="248.6" y2="270.7" stroke="#111" stroke-width="0.95"/>
<rect x="508.50" y="252.1" width="2.2" height="18.2" fill="#b01818" stroke="#151515" stroke-width="0.7"/>
<line x1="513.12" x2="513.12" y1="262.6" y2="276.6" stroke="#111" stroke-width="0.95"/>
<rect x="512.02" y="266.1" width="2.2" height="4.2" fill="#2fae2f" stroke="#151515" stroke-width="0.7"/>
<line x1="516.63" x2="516.63" y1="270.7" y2="276.9" stroke="#111" stroke-width="0.95"/>
<rect x="515.53" y="271.3" width="2.2" height="5.0" fill="#2fae2f" stroke="#151515" stroke-width="0.7"/>
<line x1="520.15" x2="520.15" y1="267.5" y2="273.1" stroke="#111" stroke-width="0.95"/>
<line x1="518.75" x2="521.55" y1="271.3" y2="271.3" stroke="#111" stroke-width="1"/>
<line x1="3.04" x2="3.04" y1="429.0" y2="417.1" stroke="#1f8f1f" stroke-width="1.25"/>
<line x1="6.55" x2="6.55" y1="429.0" y2="415.8" stroke="#1f8f1f" stroke-width="1.25"/>
<line x1="10.07" x2="10.07" y1="429.0" y2="414.5" stroke="#1f8f1f" stroke-width="1.25"/>
<line x1="13.59" x2="13.59" y1="429.0" y2="413.6" stroke="#1f8f1f" stroke-width="1.25"/>
<line x1="17.11" x2="17.11" y1="429.0" y2="412.2" stroke="#1f8f1f" stroke-width="1.25"/>
<line x1="20.62" x2="20.62" y1="429.0" y2="411.3" stroke="#1f8f1f" stroke-width="1.25"/>
<line x1="24.14" x2="24.14" y1="429.0" y2="412.8" stroke="#1f8f1f" stroke-width="1.25"/>
<line x1="27.66" x2="27.66" y1="429.0" y2="413.2" stroke="#1f8f1f" stroke-width="1.25"/>
<line x1="31.18" x2="31.18" y1="429.0" y2="413.8" stroke="#1f8f1f" stroke-width="1.25"/>
<line x1="34.70" x2="34.70" y1="429.0" y2="415.6" stroke="#1f8f1f" stroke-width="1.25"/>
<line x1="38.21" x2="38.21" y1="429.0" y2="418.1" stroke="#1f8f1f" stroke-width="1.25"/>
<line x1="41.73" x2="41.73" y1="429.0" y2="423.3" stroke="#1f8f1f" stroke-width="1.25"/>
<line x1="45.25" x2="45.25" y1="429.0" y2="428.4" stroke="#1f8f1f" stroke-width="1.25"/>
<line x1="48.77" x2="48.77" y1="429.0" y2="431.8" stroke="#1f8f1f" stroke-width="1.25"/>
<line x1="52.28" x2="52.28" y1="429.0" y2="435.2" stroke="#1f8f1f" stroke-width="1.25"/>
<line x1="55.80" x2="55.80" y1="429.0" y2="437.8" stroke="#1f8f1f" stroke-width="1.25"/>
<line x1="59.32" x2="59.32" y1="429.0" y2="437.8" stroke="#1f8f1f" stroke-width="1.25"/>
<line x1="62.84" x2="62.84" y1="429.0" y2="437.8" stroke="#1f8f1f" stroke-width="1.25"/>
<line x1="66.36" x2="66.36" y1="429.0" y2="437.3" stroke="#1f8f1f" stroke-width="1.25"/>
<line x1="69.87" x2="69.87" y1="429.0" y2="436.3" stroke="#1f8f1f" stroke-width="1.25"/>
<line x1="73.39" x2="73.39" y1="429.0" y2="435.2" stroke="#1f8f1f" stroke-width="1.25"/>
<line x1="76.91" x2="76.91" y1="429.0" y2="435.3" stroke="#1f8f1f" stroke-width="1.25"/>
<line x1="80.43" x2="80.43" y1="429.0" y2="436.3" stroke="#1f8f1f" stroke-width="1.25"/>
<line x1="83.95" x2="83.95" y1="429.0" y2="437.3" stroke="#1f8f1f" stroke-width="1.25"/>
<line x1="87.46" x2="87.46" y1="429.0" y2="437.0" stroke="#1f8f1f" stroke-width="1.25"/>
<line x1="90.98" x2="90.98" y1="429.0" y2="434.4" stroke="#1f8f1f" stroke-width="1.25"/>
<line x1="94.50" x2="94.50" y1="429.0" y2="431.8" stroke="#1f8f1f" stroke-width="1.25"/>
<line x1="98.02" x2="98.02" y1="429.0" y2="431.3" stroke="#1f8f1f" stroke-width="1.25"/>
<line x1="101.53" x2="101.53" y1="429.0" y2="431.5" stroke="#1f8f1f" stroke-width="1.25"/>
<line x1="105.05" x2="105.05" y1="429.0" y2="432.2" stroke="#1f8f1f" stroke-width="1.25"/>
<line x1="108.57" x2="108.57" y1="429.0" y2="428.4" stroke="#1f8f1f" stroke-width="1.25"/>
<line x1="112.09" x2="112.09" y1="429.0" y2="425.9" stroke="#1f8f1f" stroke-width="1.25"/>
<line x1="115.61" x2="115.61" y1="429.0" y2="424.2" stroke="#1f8f1f" stroke-width="1.25"/>
<line x1="119.12" x2="119.12" y1="429.0" y2="424.0" stroke="#1f8f1f" stroke-width="1.25"/>
<line x1="122.64" x2="122.64" y1="429.0" y2="425.0" stroke="#1f8f1f" stroke-width="1.25"/>
<line x1="126.16" x2="126.16" y1="429.0" y2="425.9" stroke="#1f8f1f" stroke-width="1.25"/>
<line x1="129.68" x2="129.68" y1="429.0" y2="421.5" stroke="#1f8f1f" stroke-width="1.25"/>
<line x1="133.19" x2="133.19" y1="429.0" y2="418.1" stroke="#1f8f1f" stroke-width="1.25"/>
<line x1="136.71" x2="136.71" y1="429.0" y2="415.1" stroke="#1f8f1f" stroke-width="1.25"/>
<line x1="140.23" x2="140.23" y1="429.0" y2="414.9" stroke="#1f8f1f" stroke-width="1.25"/>
<line x1="143.75" x2="143.75" y1="429.0" y2="415.7" stroke="#1f8f1f" stroke-width="1.25"/>
<line x1="147.27" x2="147.27" y1="429.0" y2="417.4" stroke="#1f8f1f" stroke-width="1.25"/>
<line x1="150.78" x2="150.78" y1="429.0" y2="421.1" stroke="#1f8f1f" stroke-width="1.25"/>
<line x1="154.30" x2="154.30" y1="429.0" y2="423.4" stroke="#1f8f1f" stroke-width="1.25"/>
<line x1="157.82" x2="157.82" y1="429.0" y2="425.3" stroke="#1f8f1f" stroke-width="1.25"/>
<line x1="161.34" x2="161.34" y1="429.0" y2="426.8" stroke="#1f8f1f" stroke-width="1.25"/>
<line x1="164.85" x2="164.85" y1="429.0" y2="424.8" stroke="#1f8f1f" stroke-width="1.25"/>
<line x1="168.37" x2="168.37" y1="429.0" y2="422.9" stroke="#1f8f1f" stroke-width="1.25"/>
<line x1="171.89" x2="171.89" y1="429.0" y2="421.4" stroke="#1f8f1f" stroke-width="1.25"/>
<line x1="175.41" x2="175.41" y1="429.0" y2="420.4" stroke="#1f8f1f" stroke-width="1.25"/>
<line x1="178.93" x2="178.93" y1="429.0" y2="420.2" stroke="#1f8f1f" stroke-width="1.25"/>
<line x1="182.44" x2="182.44" y1="429.0" y2="421.3" stroke="#1f8f1f" stroke-width="1.25"/>
<line x1="185.96" x2="185.96" y1="429.0" y2="423.8" stroke="#1f8f1f" stroke-width="1.25"/>
<line x1="189.48" x2="189.48" y1="429.0" y2="426.4" stroke="#1f8f1f" stroke-width="1.25"/>
<line x1="193.00" x2="193.00" y1="429.0" y2="427.7" stroke="#1f8f1f" stroke-width="1.25"/>
<line x1="196.51" x2="196.51" y1="429.0" y2="430.4" stroke="#1f8f1f" stroke-width="1.25"/>
<line x1="200.03" x2="200.03" y1="429.0" y2="431.9" stroke="#1f8f1f" stroke-width="1.25"/>
<line x1="203.55" x2="203.55" y1="429.0" y2="433.3" stroke="#1f8f1f" stroke-width="1.25"/>
<line x1="207.07" x2="207.07" y1="429.0" y2="435.0" stroke="#1f8f1f" stroke-width="1.25"/>
<line x1="210.59" x2="210.59" y1="429.0" y2="436.2" stroke="#1f8f1f" stroke-width="1.25"/>
<line x1="214.10" x2="214.10" y1="429.0" y2="437.9" stroke="#1f8f1f" stroke-width="1.25"/>
<line x1="217.62" x2="217.62" y1="429.0" y2="438.3" stroke="#1f8f1f" stroke-width="1.25"/>
<line x1="221.14" x2="221.14" y1="429.0" y2="438.5" stroke="#1f8f1f" stroke-width="1.25"/>
<line x1="224.66" x2="224.66" y1="429.0" y2="438.1" stroke="#1f8f1f" stroke-width="1.25"/>
<line x1="228.17" x2="228.17" y1="429.0" y2="437.6" stroke="#1f8f1f" stroke-width="1.25"/>
<line x1="231.69" x2="231.69" y1="429.0" y2="437.4" stroke="#1f8f1f" stroke-width="1.25"/>
<line x1="235.21" x2="235.21" y1="429.0" y2="437.7" stroke="#1f8f1f" stroke-width="1.25"/>
<line x1="238.73" x2="238.73" y1="429.0" y2="437.6" stroke="#1f8f1f" stroke-width="1.25"/>
<line x1="242.25" x2="242.25" y1="429.0" y2="437.0" stroke="#1f8f1f" stroke-width="1.25"/>
<line x1="245.76" x2="245.76" y1="429.0" y2="436.5" stroke="#1f8f1f" stroke-width="1.25"/>
<line x1="249.28" x2="249.28" y1="429.0" y2="436.2" stroke="#1f8f1f" stroke-width="1.25"/>
<line x1="252.80" x2="252.80" y1="429.0" y2="436.0" stroke="#1f8f1f" stroke-width="1.25"/>
<line x1="256.32" x2="256.32" y1="429.0" y2="435.9" stroke="#1f8f1f" stroke-width="1.25"/>
<line x1="259.84" x2="259.84" y1="429.0" y2="435.4" stroke="#1f8f1f" stroke-width="1.25"/>
<line x1="263.35" x2="263.35" y1="429.0" y2="433.7" stroke="#1f8f1f" stroke-width="1.25"/>
<line x1="266.87" x2="266.87" y1="429.0" y2="430.4" stroke="#1f8f1f" stroke-width="1.25"/>
<line x1="270.39" x2="270.39" y1="429.0" y2="428.1" stroke="#1f8f1f" stroke-width="1.25"/>
<line x1="273.91" x2="273.91" y1="429.0" y2="425.7" stroke="#1f8f1f" stroke-width="1.25"/>
<line x1="277.42" x2="277.42" y1="429.0" y2="424.6" stroke="#1f8f1f" stroke-width="1.25"/>
<line x1="280.94" x2="280.94" y1="429.0" y2="423.5" stroke="#1f8f1f" stroke-width="1.25"/>
<line x1="284.46" x2="284.46" y1="429.0" y2="423.8" stroke="#1f8f1f" stroke-width="1.25"/>
<line x1="287.98" x2="287.98" y1="429.0" y2="425.5" stroke="#1f8f1f" stroke-width="1.25"/>
<line x1="291.50" x2="291.50" y1="429.0" y2="427.2" stroke="#1f8f1f" stroke-width="1.25"/>
<line x1="295.01" x2="295.01" y1="429.0" y2="424.5" stroke="#1f8f1f" stroke-width="1.25"/>
<line x1="298.53" x2="298.53" y1="429.0" y2="419.9" stroke="#1f8f1f" stroke-width="1.25"/>
<line x1="302.05" x2="302.05" y1="429.0" y2="420.1" stroke="#1f8f1f" stroke-width="1.25"/>
<line x1="305.57" x2="305.57" y1="429.0" y2="420.6" stroke="#1f8f1f" stroke-width="1.25"/>
<line x1="309.08" x2="309.08" y1="429.0" y2="422.2" stroke="#1f8f1f" stroke-width="1.25"/>
<line x1="312.60" x2="312.60" y1="429.0" y2="425.0" stroke="#1f8f1f" stroke-width="1.25"/>
<line x1="316.12" x2="316.12" y1="429.0" y2="426.6" stroke="#1f8f1f" stroke-width="1.25"/>
<line x1="319.64" x2="319.64" y1="429.0" y2="426.3" stroke="#1f8f1f" stroke-width="1.25"/>
<line x1="323.16" x2="323.16" y1="429.0" y2="426.0" stroke="#1f8f1f" stroke-width="1.25"/>
<line x1="326.67" x2="326.67" y1="429.0" y2="425.4" stroke="#1f8f1f" stroke-width="1.25"/>
<line x1="330.19" x2="330.19" y1="429.0" y2="424.2" stroke="#1f8f1f" stroke-width="1.25"/>
<line x1="333.71" x2="333.71" y1="429.0" y2="423.8" stroke="#1f8f1f" stroke-width="1.25"/>
<line x1="337.23" x2="337.23" y1="429.0" y2="424.6" stroke="#1f8f1f" stroke-width="1.25"/>
<line x1="340.74" x2="340.74" y1="429.0" y2="425.0" stroke="#1f8f1f" stroke-width="1.25"/>
<line x1="344.26" x2="344.26" y1="429.0" y2="423.5" stroke="#1f8f1f" stroke-width="1.25"/>
<line x1="347.78" x2="347.78" y1="429.0" y2="422.0" stroke="#1f8f1f" stroke-width="1.25"/>
<line x1="351.30" x2="351.30" y1="429.0" y2="420.7" stroke="#1f8f1f" stroke-width="1.25"/>
<line x1="354.82" x2="354.82" y1="429.0" y2="419.3" stroke="#1f8f1f" stroke-width="1.25"/>
<line x1="358.33" x2="358.33" y1="429.0" y2="419.7" stroke="#1f8f1f" stroke-width="1.25"/>
<line x1="361.85" x2="361.85" y1="429.0" y2="422.2" stroke="#1f8f1f" stroke-width="1.25"/>
<line x1="365.37" x2="365.37" y1="429.0" y2="426.9" stroke="#1f8f1f" stroke-width="1.25"/>
<line x1="368.89" x2="368.89" y1="429.0" y2="430.7" stroke="#1f8f1f" stroke-width="1.25"/>
<line x1="372.40" x2="372.40" y1="429.0" y2="435.6" stroke="#1f8f1f" stroke-width="1.25"/>
<line x1="375.92" x2="375.92" y1="429.0" y2="439.4" stroke="#1f8f1f" stroke-width="1.25"/>
<line x1="379.44" x2="379.44" y1="429.0" y2="442.2" stroke="#1f8f1f" stroke-width="1.25"/>
<line x1="382.96" x2="382.96" y1="429.0" y2="443.8" stroke="#1f8f1f" stroke-width="1.25"/>
<line x1="386.48" x2="386.48" y1="429.0" y2="442.7" stroke="#1f8f1f" stroke-width="1.25"/>
<line x1="389.99" x2="389.99" y1="429.0" y2="441.5" stroke="#1f8f1f" stroke-width="1.25"/>
<line x1="393.51" x2="393.51" y1="429.0" y2="440.0" stroke="#1f8f1f" stroke-width="1.25"/>
<line x1="397.03" x2="397.03" y1="429.0" y2="438.2" stroke="#1f8f1f" stroke-width="1.25"/>
<line x1="400.55" x2="400.55" y1="429.0" y2="435.7" stroke="#1f8f1f" stroke-width="1.25"/>
<line x1="404.06" x2="404.06" y1="429.0" y2="434.9" stroke="#1f8f1f" stroke-width="1.25"/>
<line x1="407.58" x2="407.58" y1="429.0" y2="434.4" stroke="#1f8f1f" stroke-width="1.25"/>
<line x1="411.10" x2="411.10" y1="429.0" y2="434.1" stroke="#1f8f1f" stroke-width="1.25"/>
<line x1="414.62" x2="414.62" y1="429.0" y2="434.3" stroke="#1f8f1f" stroke-width="1.25"/>
<line x1="418.14" x2="418.14" y1="429.0" y2="434.7" stroke="#1f8f1f" stroke-width="1.25"/>
<line x1="421.65" x2="421.65" y1="429.0" y2="435.5" stroke="#1f8f1f" stroke-width="1.25"/>
<line x1="425.17" x2="425.17" y1="429.0" y2="436.2" stroke="#1f8f1f" stroke-width="1.25"/>
<line x1="428.69" x2="428.69" y1="429.0" y2="437.5" stroke="#1f8f1f" stroke-width="1.25"/>
<line x1="432.21" x2="432.21" y1="429.0" y2="439.2" stroke="#1f8f1f" stroke-width="1.25"/>
<line x1="435.73" x2="435.73" y1="429.0" y2="440.5" stroke="#1f8f1f" stroke-width="1.25"/>
<line x1="439.24" x2="439.24" y1="429.0" y2="442.0" stroke="#1f8f1f" stroke-width="1.25"/>
<line x1="442.76" x2="442.76" y1="429.0" y2="442.8" stroke="#1f8f1f" stroke-width="1.25"/>
<line x1="446.28" x2="446.28" y1="429.0" y2="443.9" stroke="#1f8f1f" stroke-width="1.25"/>
<line x1="449.80" x2="449.80" y1="429.0" y2="445.2" stroke="#1f8f1f" stroke-width="1.25"/>
<line x1="453.31" x2="453.31" y1="429.0" y2="445.0" stroke="#1f8f1f" stroke-width="1.25"/>
<line x1="456.83" x2="456.83" y1="429.0" y2="444.1" stroke="#1f8f1f" stroke-width="1.25"/>
<line x1="460.35" x2="460.35" y1="429.0" y2="439.5" stroke="#1f8f1f" stroke-width="1.25"/>
<line x1="463.87" x2="463.87" y1="429.0" y2="434.7" stroke="#1f8f1f" stroke-width="1.25"/>
<line x1="467.39" x2="467.39" y1="429.0" y2="431.4" stroke="#1f8f1f" stroke-width="1.25"/>
<line x1="470.90" x2="470.90" y1="429.0" y2="432.2" stroke="#1f8f1f" stroke-width="1.25"/>
<line x1="474.42" x2="474.42" y1="429.0" y2="434.2" stroke="#1f8f1f" stroke-width="1.25"/>
<line x1="477.94" x2="477.94" y1="429.0" y2="432.6" stroke="#1f8f1f" stroke-width="1.25"/>
<line x1="481.46" x2="481.46" y1="429.0" y2="430.5" stroke="#1f8f1f" stroke-width="1.25"/>
<line x1="484.97" x2="484.97" y1="429.0" y2="427.6" stroke="#1f8f1f" stroke-width="1.25"/>
<line x1="488.49" x2="488.49" y1="429.0" y2="425.8" stroke="#1f8f1f" stroke-width="1.25"/>
<line x1="492.01" x2="492.01" y1="429.0" y2="424.5" stroke="#1f8f1f" stroke-width="1.25"/>
<line x1="495.53" x2="495.53" y1="429.0" y2="423.2" stroke="#1f8f1f" stroke-width="1.25"/>
<line x1="499.05" x2="499.05" y1="429.0" y2="423.0" stroke="#1f8f1f" stroke-width="1.25"/>
<line x1="502.56" x2="502.56" y1="429.0" y2="424.3" stroke="#1f8f1f" stroke-width="1.25"/>
<line x1="506.08" x2="506.08" y1="429.0" y2="426.4" stroke="#1f8f1f" stroke-width="1.25"/>
<line x1="509.60" x2="509.60" y1="429.0" y2="430.1" stroke="#1f8f1f" stroke-width="1.25"/>
<line x1="513.12" x2="513.12" y1="429.0" y2="432.3" stroke="#1f8f1f" stroke-width="1.25"/>
<line x1="516.63" x2="516.63" y1="429.0" y2="434.1" stroke="#1f8f1f" stroke-width="1.25"/>
<line x1="520.15" x2="520.15" y1="429.0" y2="434.0" stroke="#1f8f1f" stroke-width="1.25"/>
<path d="M2.5,455.5C4.2,453.3 8.8,447.0 12.5,442.5C16.2,438.0 20.8,432.5 25.0,428.8C29.2,425.0 34.2,422.0 37.5,420.0C40.8,418.0 42.1,416.8 45.0,417.0C47.9,417.2 51.7,419.3 55.0,421.2C58.3,423.2 61.7,426.2 65.0,428.8C68.3,431.2 71.2,434.0 75.0,436.2C78.8,438.5 83.3,440.5 87.5,442.0C91.7,443.5 96.2,444.6 100.0,445.0C103.8,445.4 106.7,445.3 110.0,444.5C113.3,443.7 116.7,441.2 120.0,440.0C123.3,438.8 126.7,438.9 130.0,437.0C133.3,435.1 136.7,431.6 140.0,428.8C143.3,425.9 146.7,422.1 150.0,420.0C153.3,417.9 156.7,417.3 160.0,416.2C163.3,415.2 166.7,415.0 170.0,413.8C173.3,412.5 176.7,410.3 180.0,408.8C183.3,407.2 187.1,405.1 190.0,404.5C192.9,403.9 194.6,404.1 197.5,405.0C200.4,405.9 204.2,407.9 207.5,410.0C210.8,412.1 213.8,414.8 217.5,417.5C221.2,420.2 226.2,423.8 230.0,426.2C233.8,428.7 236.7,430.3 240.0,432.0C243.3,433.7 246.7,434.8 250.0,436.2C253.3,437.7 257.7,439.5 260.0,440.5C262.3,441.5 261.7,443.0 263.8,442.5C265.8,442.0 269.0,439.2 272.5,437.5C276.0,435.8 280.8,434.4 285.0,432.5C289.2,430.6 293.3,428.3 297.5,426.2C301.7,424.2 305.8,421.9 310.0,420.0C314.2,418.1 318.3,416.8 322.5,415.0C326.7,413.2 330.8,411.5 335.0,409.5C339.2,407.5 343.3,405.3 347.5,403.0C351.7,400.7 356.9,396.9 360.0,395.5C363.1,394.1 364.2,394.2 366.2,394.5C368.3,394.8 369.8,395.0 372.5,397.0C375.2,399.0 379.6,403.5 382.5,406.2C385.4,409.0 387.1,411.2 390.0,413.8C392.9,416.2 396.7,419.0 400.0,421.2C403.3,423.5 406.7,425.2 410.0,427.0C413.3,428.8 416.7,430.2 420.0,432.0C423.3,433.8 426.7,435.1 430.0,437.5C433.3,439.9 436.7,442.9 440.0,446.2C443.3,449.6 446.7,454.0 450.0,457.5C453.3,461.0 457.1,464.9 460.0,467.0C462.9,469.1 464.6,469.2 467.5,470.0C470.4,470.8 474.6,471.8 477.5,472.0C480.4,472.2 482.1,472.0 485.0,471.2C487.9,470.5 491.7,468.8 495.0,467.5C498.3,466.2 502.5,464.5 505.0,463.8C507.5,463.0 508.3,462.9 510.0,463.0C511.7,463.1 513.3,464.0 515.0,464.5C516.7,465.0 519.2,466.0 520.0,466.2" fill="none" stroke="#ff2a2a" stroke-width="1.0" stroke-linejoin="round" stroke-dasharray="2.6 2.2"/>
<path d="M2.5,443.8C3.8,441.7 7.1,435.8 10.0,431.2C12.9,426.7 16.7,419.9 20.0,416.2C23.3,412.6 27.1,410.9 30.0,409.5C32.9,408.1 35.0,406.9 37.5,408.0C40.0,409.1 42.1,412.6 45.0,416.2C47.9,419.9 51.7,426.5 55.0,430.0C58.3,433.5 61.7,435.5 65.0,437.5C68.3,439.5 71.7,440.0 75.0,442.0C78.3,444.0 82.9,448.2 85.0,449.5C87.1,450.8 85.8,450.5 87.5,450.0C89.2,449.5 92.1,446.6 95.0,446.2C97.9,445.9 102.1,449.0 105.0,448.0C107.9,447.0 110.4,442.1 112.5,440.0C114.6,437.9 115.0,436.3 117.5,435.5C120.0,434.7 125.4,436.1 127.5,435.0C129.6,433.9 128.3,431.9 130.0,428.8C131.7,425.6 134.8,419.3 137.5,416.2C140.2,413.2 143.3,411.0 146.2,410.5C149.2,410.0 152.5,412.5 155.0,413.0C157.5,413.5 159.2,414.5 161.2,413.8C163.3,413.0 164.8,410.9 167.5,408.8C170.2,406.6 175.0,402.2 177.5,400.8C180.0,399.3 180.0,399.6 182.5,400.0C185.0,400.4 189.2,401.1 192.5,403.0C195.8,404.9 199.6,408.6 202.5,411.2C205.4,413.9 207.9,416.5 210.0,418.8C212.1,421.0 212.9,423.0 215.0,425.0C217.1,427.0 220.0,428.9 222.5,430.5C225.0,432.1 227.5,433.0 230.0,434.5C232.5,436.0 234.6,438.2 237.5,439.5C240.4,440.8 244.2,441.4 247.5,442.5C250.8,443.6 254.9,445.4 257.5,446.2C260.1,447.1 261.3,448.3 263.0,447.5C264.7,446.7 265.7,443.5 267.5,441.2C269.3,439.0 271.2,436.0 273.8,433.8C276.2,431.5 279.4,428.5 282.5,427.5C285.6,426.5 289.8,429.4 292.5,427.5C295.2,425.6 296.2,418.6 298.8,416.2C301.2,413.9 304.8,413.2 307.5,413.2C310.2,413.2 312.1,416.5 315.0,416.2C317.9,416.0 322.1,413.7 325.0,412.0C327.9,410.3 330.0,407.6 332.5,406.2C335.0,404.9 337.5,405.4 340.0,403.8C342.5,402.1 345.0,398.8 347.5,396.2C350.0,393.8 353.1,390.3 355.0,388.8C356.9,387.2 357.5,387.0 358.8,387.0C360.0,387.0 360.6,386.8 362.5,388.8C364.4,390.7 367.5,394.6 370.0,398.8C372.5,402.9 375.4,410.0 377.5,413.8C379.6,417.5 380.4,419.2 382.5,421.2C384.6,423.3 387.7,425.1 390.0,426.2C392.3,427.4 394.4,427.9 396.2,428.2C398.1,428.6 399.0,427.6 401.2,428.2C403.5,428.9 407.3,430.7 410.0,432.0C412.7,433.3 414.6,434.3 417.5,436.2C420.4,438.2 424.2,440.4 427.5,443.8C430.8,447.1 434.8,452.8 437.5,456.2C440.2,459.7 441.7,461.6 443.8,464.5C445.8,467.4 447.9,471.3 450.0,473.8C452.1,476.2 454.6,478.5 456.2,479.2C457.9,480.0 458.3,479.2 460.0,478.0C461.7,476.8 464.6,472.8 466.2,472.0C467.9,471.2 468.5,472.4 470.0,473.2C471.5,474.1 473.3,476.8 475.0,477.0C476.7,477.2 477.9,476.1 480.0,474.5C482.1,472.9 484.6,469.9 487.5,467.5C490.4,465.1 494.6,461.2 497.5,460.0C500.4,458.8 502.9,459.2 505.0,460.0C507.1,460.8 508.1,462.8 510.0,464.5C511.9,466.2 514.7,468.9 516.2,470.0C517.8,471.1 519.0,471.0 519.5,471.2" fill="none" stroke="#2a2aff" stroke-width="1.1" stroke-linejoin="round" />
<g stroke="#404040" stroke-width="1.3" fill="none">
<line x1="2.5" x2="2.5" y1="38.9" y2="484.0"/>
<line x1="661.0" x2="661.0" y1="38.9" y2="484.0"/>
<line x1="1.9" x2="661.6" y1="38.9" y2="38.9" stroke-width="1.5"/>
<line x1="2.5" x2="661.0" y1="484.0" y2="484.0"/>
</g>
<line x1="2.5" x2="661.0" y1="379.7" y2="379.7" stroke="#404040" stroke-width="1.1"/>
<line x1="2.5" x2="661.0" y1="381.2" y2="381.2" stroke="#404040" stroke-width="1.1"/>
<line x1="2.5" x2="661.0" y1="380.45" y2="380.45" stroke="#d8d8d8" stroke-width="0.5"/>
<polygon points="523,39.3 531.4,39.3 527.2,43.8" fill="#7288a4"/>
<line x1="523" x2="531.4" y1="39.4" y2="39.4" stroke="#2a3646" stroke-width="0.9"/>
<polygon points="5.2,44.2 11.7,44.2 8.45,47.9" fill="#111"/>
<text x="16.2" y="49.2" font-family="'Liberation Sans',sans-serif" font-size="8.4" fill="#0a0a0a" stroke="#0a0a0a" stroke-width="0.18" textLength="57.5" lengthAdjust="spacingAndGlyphs">AUDUSD,Daily</text>
<text x="6.2" y="391.6" font-family="'Liberation Sans',sans-serif" font-size="8.6" fill="#0a0a0a" stroke="#0a0a0a" stroke-width="0.18" textLength="174" lengthAdjust="spacingAndGlyphs">MACD(12,26,9) -0.004587 -0.004070 -0.000516</text>
<line x1="661.0" x2="663.6" y1="50.6" y2="50.6" stroke="#404040" stroke-width="1"/>
<text x="665.8" y="53.6" font-family="'Liberation Sans',sans-serif" font-size="8.6" fill="#0a0a0a" stroke="#0a0a0a" stroke-width="0.18" textLength="28.8" lengthAdjust="spacingAndGlyphs">0.74450</text>
<line x1="661.0" x2="663.6" y1="78" y2="78" stroke="#404040" stroke-width="1"/>
<text x="665.8" y="81.0" font-family="'Liberation Sans',sans-serif" font-size="8.6" fill="#0a0a0a" stroke="#0a0a0a" stroke-width="0.18" textLength="28.8" lengthAdjust="spacingAndGlyphs">0.73400</text>
<line x1="661.0" x2="663.6" y1="105" y2="105" stroke="#404040" stroke-width="1"/>
<text x="665.8" y="108.0" font-family="'Liberation Sans',sans-serif" font-size="8.6" fill="#0a0a0a" stroke="#0a0a0a" stroke-width="0.18" textLength="28.8" lengthAdjust="spacingAndGlyphs">0.72380</text>
<line x1="661.0" x2="663.6" y1="132.4" y2="132.4" stroke="#404040" stroke-width="1"/>
<text x="665.8" y="135.4" font-family="'Liberation Sans',sans-serif" font-size="8.6" fill="#0a0a0a" stroke="#0a0a0a" stroke-width="0.18" textLength="28.8" lengthAdjust="spacingAndGlyphs">0.71330</text>
<line x1="661.0" x2="663.6" y1="159.6" y2="159.6" stroke="#404040" stroke-width="1"/>
<text x="665.8" y="162.6" font-family="'Liberation Sans',sans-serif" font-size="8.6" fill="#0a0a0a" stroke="#0a0a0a" stroke-width="0.18" textLength="28.8" lengthAdjust="spacingAndGlyphs">0.70310</text>
<line x1="661.0" x2="663.6" y1="186.6" y2="186.6" stroke="#404040" stroke-width="1"/>
<text x="665.8" y="189.6" font-family="'Liberation Sans',sans-serif" font-size="8.6" fill="#0a0a0a" stroke="#0a0a0a" stroke-width="0.18" textLength="28.8" lengthAdjust="spacingAndGlyphs">0.69260</text>
<line x1="661.0" x2="663.6" y1="213.6" y2="213.6" stroke="#404040" stroke-width="1"/>
<text x="665.8" y="216.6" font-family="'Liberation Sans',sans-serif" font-size="8.6" fill="#0a0a0a" stroke="#0a0a0a" stroke-width="0.18" textLength="28.8" lengthAdjust="spacingAndGlyphs">0.68240</text>
<line x1="661.0" x2="663.6" y1="268" y2="268" stroke="#404040" stroke-width="1"/>
<text x="665.8" y="271.0" font-family="'Liberation Sans',sans-serif" font-size="8.6" fill="#0a0a0a" stroke="#0a0a0a" stroke-width="0.18" textLength="28.8" lengthAdjust="spacingAndGlyphs">0.66170</text>
<line x1="661.0" x2="663.6" y1="296" y2="296" stroke="#404040" stroke-width="1"/>
<text x="665.8" y="299.0" font-family="'Liberation Sans',sans-serif" font-size="8.6" fill="#0a0a0a" stroke="#0a0a0a" stroke-width="0.18" textLength="28.8" lengthAdjust="spacingAndGlyphs">0.65120</text>
<line x1="661.0" x2="663.6" y1="323" y2="323" stroke="#404040" stroke-width="1"/>
<text x="665.8" y="326.0" font-family="'Liberation Sans',sans-serif" font-size="8.6" fill="#0a0a0a" stroke="#0a0a0a" stroke-width="0.18" textLength="28.8" lengthAdjust="spacingAndGlyphs">0.64100</text>
<line x1="661.0" x2="663.6" y1="350" y2="350" stroke="#404040" stroke-width="1"/>
<text x="665.8" y="353.0" font-family="'Liberation Sans',sans-serif" font-size="8.6" fill="#0a0a0a" stroke="#0a0a0a" stroke-width="0.18" textLength="28.8" lengthAdjust="spacingAndGlyphs">0.63050</text>
<line x1="661.0" x2="663.6" y1="377.2" y2="377.2" stroke="#404040" stroke-width="1"/>
<text x="665.8" y="380.2" font-family="'Liberation Sans',sans-serif" font-size="8.6" fill="#0a0a0a" stroke="#0a0a0a" stroke-width="0.18" textLength="28.8" lengthAdjust="spacingAndGlyphs">0.62030</text>
<rect x="662.2" y="169.5" width="35.8" height="8.6" fill="#ff0000"/>
<text x="665.8" y="176.8" font-family="'Liberation Sans',sans-serif" font-size="8.6" fill="#ffffff" stroke="#ffffff" stroke-width="0.18" textLength="28.8" lengthAdjust="spacingAndGlyphs">0.69749</text>
<rect x="662.2" y="236.4" width="35.8" height="8.6" fill="#ff0000"/>
<text x="665.8" y="243.7" font-family="'Liberation Sans',sans-serif" font-size="8.6" fill="#ffffff" stroke="#ffffff" stroke-width="0.18" textLength="28.8" lengthAdjust="spacingAndGlyphs">0.67207</text>
<rect x="662.2" y="266.4" width="35.8" height="8.6" fill="#000000"/>
<text x="665.8" y="273.7" font-family="'Liberation Sans',sans-serif" font-size="8.6" fill="#ffffff" stroke="#ffffff" stroke-width="0.18" textLength="28.8" lengthAdjust="spacingAndGlyphs">0.66070</text>
<rect x="662.2" y="299.5" width="35.8" height="8.6" fill="#ff0000"/>
<text x="665.8" y="306.8" font-family="'Liberation Sans',sans-serif" font-size="8.6" fill="#ffffff" stroke="#ffffff" stroke-width="0.18" textLength="28.8" lengthAdjust="spacingAndGlyphs">0.64789</text>
<rect x="662.2" y="350.7" width="35.8" height="8.6" fill="#ff0000"/>
<text x="665.8" y="358.0" font-family="'Liberation Sans',sans-serif" font-size="8.6" fill="#ffffff" stroke="#ffffff" stroke-width="0.18" textLength="28.8" lengthAdjust="spacingAndGlyphs">0.62835</text>
<text x="664.4" y="390.0" font-family="'Liberation Sans',sans-serif" font-size="8.6" fill="#0a0a0a" stroke="#0a0a0a" stroke-width="0.18" textLength="32" lengthAdjust="spacingAndGlyphs">0.004963</text>
<line x1="661.0" x2="663.6" y1="429.4" y2="429.4" stroke="#404040" stroke-width="1"/>
<text x="664.4" y="432.4" font-family="'Liberation Sans',sans-serif" font-size="8.6" fill="#0a0a0a" stroke="#0a0a0a" stroke-width="0.18" textLength="15.2" lengthAdjust="spacingAndGlyphs">0.00</text>
<text x="664.4" y="482.0" font-family="'Liberation Sans',sans-serif" font-size="8.6" fill="#0a0a0a" stroke="#0a0a0a" stroke-width="0.18" textLength="34.6" lengthAdjust="spacingAndGlyphs">-0.005887</text>
<line x1="3.0" x2="3.0" y1="484.0" y2="486.8" stroke="#404040" stroke-width="1"/>
<text x="2.2" y="494.8" font-family="'Liberation Sans',sans-serif" font-size="8.6" fill="#0a0a0a" stroke="#0a0a0a" stroke-width="0.18" textLength="40.6" lengthAdjust="spacingAndGlyphs">5 Sep 2019</text>
<line x1="59.3" x2="59.3" y1="484.0" y2="486.8" stroke="#404040" stroke-width="1"/>
<text x="58.5" y="494.8" font-family="'Liberation Sans',sans-serif" font-size="8.6" fill="#0a0a0a" stroke="#0a0a0a" stroke-width="0.18" textLength="44.8" lengthAdjust="spacingAndGlyphs">24 Sep 2019</text>
<line x1="115.6" x2="115.6" y1="484.0" y2="486.8" stroke="#404040" stroke-width="1"/>
<text x="114.8" y="494.8" font-family="'Liberation Sans',sans-serif" font-size="8.6" fill="#0a0a0a" stroke="#0a0a0a" stroke-width="0.18" textLength="44.8" lengthAdjust="spacingAndGlyphs">13 Oct 2019</text>
<line x1="171.9" x2="171.9" y1="484.0" y2="486.8" stroke="#404040" stroke-width="1"/>
<text x="171.1" y="494.8" font-family="'Liberation Sans',sans-serif" font-size="8.6" fill="#0a0a0a" stroke="#0a0a0a" stroke-width="0.18" textLength="44.8" lengthAdjust="spacingAndGlyphs">31 Oct 2019</text>
<line x1="228.2" x2="228.2" y1="484.0" y2="486.8" stroke="#404040" stroke-width="1"/>
<text x="227.4" y="494.8" font-family="'Liberation Sans',sans-serif" font-size="8.6" fill="#0a0a0a" stroke="#0a0a0a" stroke-width="0.18" textLength="44.8" lengthAdjust="spacingAndGlyphs">19 Nov 2019</text>
<line x1="284.5" x2="284.5" y1="484.0" y2="486.8" stroke="#404040" stroke-width="1"/>
<text x="283.7" y="494.8" font-family="'Liberation Sans',sans-serif" font-size="8.6" fill="#0a0a0a" stroke="#0a0a0a" stroke-width="0.18" textLength="40.6" lengthAdjust="spacingAndGlyphs">8 Dec 2019</text>
<line x1="340.8" x2="340.8" y1="484.0" y2="486.8" stroke="#404040" stroke-width="1"/>
<text x="340.0" y="494.8" font-family="'Liberation Sans',sans-serif" font-size="8.6" fill="#0a0a0a" stroke="#0a0a0a" stroke-width="0.18" textLength="44.8" lengthAdjust="spacingAndGlyphs">26 Dec 2019</text>
<line x1="397.1" x2="397.1" y1="484.0" y2="486.8" stroke="#404040" stroke-width="1"/>
<text x="396.3" y="494.8" font-family="'Liberation Sans',sans-serif" font-size="8.6" fill="#0a0a0a" stroke="#0a0a0a" stroke-width="0.18" textLength="44.8" lengthAdjust="spacingAndGlyphs">14 Jan 2020</text>
<line x1="453.4" x2="453.4" y1="484.0" y2="486.8" stroke="#404040" stroke-width="1"/>
<text x="452.6" y="494.8" font-family="'Liberation Sans',sans-serif" font-size="8.6" fill="#0a0a0a" stroke="#0a0a0a" stroke-width="0.18" textLength="40.6" lengthAdjust="spacingAndGlyphs">2 Feb 2020</text>
<line x1="509.7" x2="509.7" y1="484.0" y2="486.8" stroke="#404040" stroke-width="1"/>
<text x="508.9" y="494.8" font-family="'Liberation Sans',sans-serif" font-size="8.6" fill="#0a0a0a" stroke="#0a0a0a" stroke-width="0.18" textLength="44.8" lengthAdjust="spacingAndGlyphs">20 Feb 2020</text>
</svg>
</body></html>
